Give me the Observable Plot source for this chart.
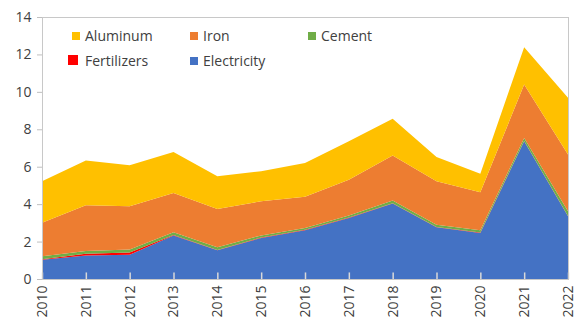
<!DOCTYPE html>
<html>
<head>
<meta charset="utf-8">
<script src="https://cdn.jsdelivr.net/npm/d3@7"></script>
<script src="https://cdn.jsdelivr.net/npm/@observablehq/plot@0.6"></script>
<style>
  body { margin: 0; background: #fff; }
  #wrap { position: relative; width: 576px; height: 322px; font-family: "Open Sans", "Noto Sans", sans-serif; }
  .lg { position: absolute; font-size: 14px; color: #404040; line-height: 16px; white-space: nowrap; }
  .sw { position: absolute; }
</style>
</head>
<body>
<div id="wrap"></div>
<script>
const years = [2010, 2011, 2012, 2013, 2014, 2015, 2016, 2017, 2018, 2019, 2020, 2021, 2022];
const electricity = [1.03, 1.25, 1.30, 2.32, 1.53, 2.19, 2.60, 3.26, 4.03, 2.76, 2.46, 7.36, 3.35];
const fertilizers = [0.03, 0.10, 0.12, 0.03, 0.02, 0.03, 0.03, 0.02, 0.02, 0.02, 0.02, 0.02, 0.02];
const cement      = [0.15, 0.15, 0.15, 0.15, 0.15, 0.11, 0.10, 0.11, 0.14, 0.12, 0.12, 0.16, 0.25];
const iron        = [1.79, 2.44, 2.32, 2.10, 2.04, 1.82, 1.66, 1.92, 2.41, 2.32, 2.03, 2.85, 3.03];
const aluminum    = [2.22, 2.39, 2.19, 2.19, 1.75, 1.61, 1.81, 2.05, 1.96, 1.30, 1.00, 2.00, 3.03];

const seriesNames = ["Electricity", "Fertilizers", "Cement", "Iron", "Aluminum"];
const seriesValues = [electricity, fertilizers, cement, iron, aluminum];
const seriesColors = ["#4472C4", "#FF0000", "#70AD47", "#ED7D31", "#FFC000"];

const data = [];
seriesNames.forEach((name, i) => {
  years.forEach((yr, j) => data.push({ year: yr, series: name, value: seriesValues[i][j] }));
});

const chart = Plot.plot({
  width: 576,
  height: 322,
  marginLeft: 42,
  marginRight: 8,
  marginTop: 17,
  marginBottom: 43,
  style: { fontFamily: "'Open Sans', 'Noto Sans', sans-serif", fontSize: "14px", color: "#404040", background: "#fff" },
  x: { type: "linear", domain: [2010, 2022], ticks: 12, tickFormat: "d", tickRotate: -90, tickSize: 0, tickPadding: 6, label: null },
  y: { domain: [0, 14], ticks: 7, tickSize: 5, tickPadding: 6, label: null },
  color: { domain: seriesNames, range: seriesColors },
  marks: [
    Plot.areaY(data, { x: "year", y: "value", fill: "series", order: seriesNames, curve: "linear" }),
    Plot.ruleX(years, { x: d => d, y1: 0, y2: 0.35, stroke: "#d9d9d9", strokeWidth: 1.5 }),
    Plot.frame({ stroke: "#c8c8c8" })
  ]
});
chart.querySelectorAll("g[aria-label='y-axis tick'] path, g[aria-label='y-axis'] path").forEach(p => p.setAttribute("stroke", "#bfbfbf"));
const wrap = document.getElementById("wrap");
wrap.appendChild(chart);

const legendItems = [
  { name: "Aluminum", color: "#FFC000", sx: 72, sy: 32, s: 8, tx: 85, ty: 28 },
  { name: "Iron", color: "#ED7D31", sx: 190, sy: 32, s: 8, tx: 203, ty: 28 },
  { name: "Cement", color: "#70AD47", sx: 308, sy: 32, s: 8, tx: 321, ty: 28 },
  { name: "Fertilizers", color: "#FF0000", sx: 68, sy: 55, s: 10, tx: 85, ty: 53 },
  { name: "Electricity", color: "#4472C4", sx: 190, sy: 57, s: 8, tx: 203, ty: 53 }
];
legendItems.forEach(it => {
  const sw = document.createElement("div");
  sw.className = "sw";
  sw.style.left = it.sx + "px"; sw.style.top = it.sy + "px";
  sw.style.width = it.s + "px"; sw.style.height = it.s + "px";
  sw.style.background = it.color;
  wrap.appendChild(sw);
  const t = document.createElement("div");
  t.className = "lg";
  t.style.left = it.tx + "px"; t.style.top = it.ty + "px";
  t.textContent = it.name;
  wrap.appendChild(t);
});
</script>
</body>
</html>
